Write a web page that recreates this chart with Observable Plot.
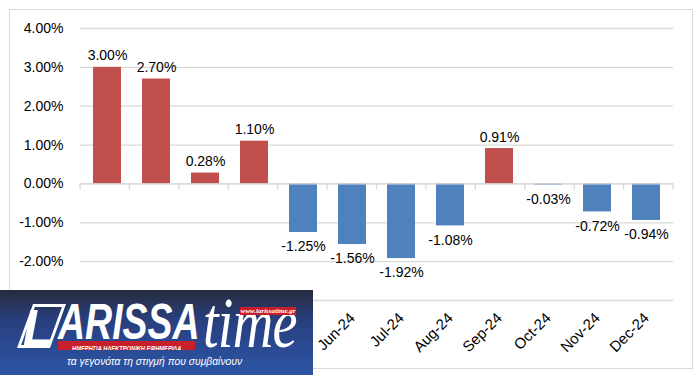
<!DOCTYPE html>
<html>
<head>
<meta charset="utf-8">
<script src="https://cdn.jsdelivr.net/npm/d3@7"></script>
<script src="https://cdn.jsdelivr.net/npm/@observablehq/plot@0.6"></script>
<style>
  html, body { margin: 0; padding: 0; background: #fff; }
  #wrap { position: relative; width: 698px; height: 375px; overflow: hidden; font-family: "Liberation Sans", Arial, sans-serif; }
  #border { position: absolute; left: 9px; top: 9px; width: 684px; height: 360px; box-sizing: border-box; border: 1.5px solid #d9d9d9; pointer-events: none; }
  #logo { position: absolute; left: 0; top: 290px; width: 313px; height: 85px; overflow: hidden;
          background: linear-gradient(180deg, #272b3e 0%, #283f7e 35%, #2c55a6 100%); color: #fff; }
  #logo .lbox { position: absolute; left: 25px; top: 14px; width: 33px; height: 44px; border: 3px solid #fff; transform: skewX(-20deg); box-sizing: border-box; }
  #logo .L { position: absolute; left: 23px; top: 13px; font: italic bold 50px "Liberation Sans", Arial, sans-serif; line-height: 50px; }
  #logo .arissa { position: absolute; left: 58px; top: 7px; font: italic bold 50px "Liberation Sans", Arial, sans-serif; line-height: 50px; transform: scaleX(0.75); transform-origin: left top; white-space: nowrap; }
  #logo .time { position: absolute; left: 203px; top: -3px; font: italic 72px "Liberation Serif", "DejaVu Serif", serif; line-height: 72px; transform: scaleX(0.78); transform-origin: left top; white-space: nowrap; letter-spacing: -1px; }
  #logo .web { position: absolute; left: 240px; top: 17px; width: 56px; height: 8px; background: #c8202a; font: italic bold 7px "Liberation Serif", serif; line-height: 8px; text-align: center; white-space: nowrap; overflow: hidden; }
  #logo .banner { position: absolute; left: 58px; top: 51px; width: 137px; height: 9px; background: #c8202a; line-height: 9px; text-align: center; white-space: nowrap; overflow: hidden; }
  #logo .banner span { display: inline-block; font: italic bold 7px "Liberation Sans", Arial, sans-serif; transform: scaleX(0.82); }
  #logo .tag { position: absolute; left: 67px; top: 64px; font: italic 11px "Liberation Sans", Arial, sans-serif; line-height: 14px; transform: scaleX(0.94); transform-origin: left top; white-space: nowrap; }
</style>
</head>
<body>
<div id="wrap">
  <div id="chart"></div>
  <div id="border"></div>
  <div id="logo">
    <div class="lbox"></div>
    <div class="L">L</div>
    <div class="arissa">ARISSA</div>
    <div class="time">time</div>
    <div class="web">www.larissatime.gr</div>
    <div class="banner"><span>ΗΜΕΡΗΣΙΑ ΗΛΕΚΤΡΟΝΙΚΗ ΕΦΗΜΕΡΙΔΑ</span></div>
    <div class="tag">τα γεγονότα τη στιγμή που συμβαίνουν</div>
  </div>
</div>
<script>
const months = ["Jan-24","Feb-24","Mar-24","Apr-24","May-24","Jun-24","Jul-24","Aug-24","Sep-24","Oct-24","Nov-24","Dec-24"];
const values = [3.00, 2.70, 0.28, 1.10, -1.25, -1.56, -1.92, -1.08, 0.91, -0.03, -0.72, -0.94];
const yTicks = [-3, -2, -1, 0, 1, 2, 3, 4];

const data = months.map((m, i) => ({month: m, v: values[i]}));
const fmt = v => v.toFixed(2) + "%";
const RED = "#C0504D", BLUE = "#4F81BD", GRID = "#d9d9d9";

const boundaryTicks = (I, scales, vals, dims) => {
  const g = d3.create("svg:g");
  const n = months.length;
  const step = (dims.width - dims.marginLeft - dims.marginRight) / n;
  const y0 = scales.y(0);
  for (let i = 0; i <= n; i++) {
    const x = dims.marginLeft + i * step;
    g.append("line").attr("x1", x).attr("x2", x).attr("y1", y0).attr("y2", y0 + 6)
      .attr("stroke", GRID).attr("stroke-width", 1.3);
  }
  return g.node();
};

const chart = Plot.plot({
  width: 698,
  height: 375,
  marginLeft: 80,
  marginRight: 25,
  marginTop: 28,
  marginBottom: 75,
  style: {fontFamily: "'Liberation Sans', Arial, sans-serif", fontSize: "14px", color: "#000", background: "transparent", overflow: "visible"},
  x: {domain: months, paddingInner: 0.43, paddingOuter: 0.215, tickRotate: -45, tickSize: 0, tickPadding: 15, label: null},
  y: {domain: [-3, 4], ticks: yTicks, tickFormat: fmt, tickSize: 0, tickPadding: 17, label: null},
  color: {domain: ["pos", "neg"], range: [RED, BLUE]},
  marks: [
    Plot.ruleY(yTicks, {stroke: GRID, strokeWidth: 1.3}),
    Plot.barY(data, {x: "month", y: "v", fill: d => d.v >= 0 ? "pos" : "neg"}),
    Plot.ruleY([0], {stroke: GRID, strokeWidth: 1.3}),
    boundaryTicks,
    Plot.text(data.filter(d => d.v >= 0), {x: "month", y: "v", text: d => fmt(d.v), lineAnchor: "bottom", dy: -7, fill: "#000"}),
    Plot.text(data.filter(d => d.v < 0), {x: "month", y: "v", text: d => fmt(d.v), lineAnchor: "top", dy: 9, fill: "#000"})
  ]
});
d3.select(chart).selectAll("text")
  .filter(function () { return months.includes(this.textContent); })
  .style("font-size", "15px");
document.getElementById("chart").appendChild(chart);
</script>
</body>
</html>
